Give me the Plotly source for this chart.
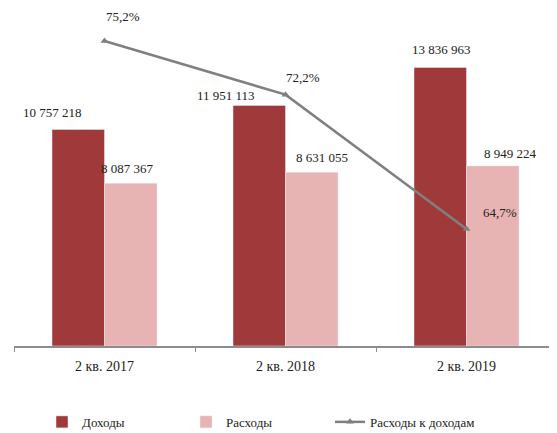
import plotly.graph_objects as go

categories = ["2 кв. 2017", "2 кв. 2018", "2 кв. 2019"]
income = [10757218, 11951113, 13836963]
expenses = [8087367, 8631055, 8949224]
ratio = [75.2, 72.2, 64.7]

def fmt_num(v):
    return f"{v:,}".replace(",", " ")

def fmt_pct(v):
    return f"{v:.1f}%".replace(".", ",")

FONT = "Liberation Serif"
C_INC = "#A03A3A"
C_EXP = "#E8B3B3"
C_LINE = "#808080"

fig = go.Figure()
fig.add_trace(go.Bar(x=categories, y=income, name="Доходы", marker_color=C_INC))
fig.add_trace(go.Bar(x=categories, y=expenses, name="Расходы", marker_color=C_EXP))
fig.add_trace(go.Scatter(x=categories, y=ratio, name="Расходы к доходам", yaxis="y2",
                         mode="lines+markers",
                         line=dict(color=C_LINE, width=2.5),
                         marker=dict(symbol="triangle-up", size=7, color=C_LINE)))

inc_shift = [(-52, 17), (-60, 10), (-25, 18)]
exp_shift = [(23, 15), (36, 15), (44, 12)]
pct_shift = [(18, 24), (17, 17), (33, 16)]

ann = []
for c, v, (dx, dy) in zip(categories, income, inc_shift):
    ann.append(dict(x=c, y=v, text=fmt_num(v), showarrow=False, xshift=dx, yshift=dy,
                    yanchor="middle", font=dict(family=FONT, size=13, color="#222")))
for c, v, (dx, dy) in zip(categories, expenses, exp_shift):
    ann.append(dict(x=c, y=v, text=fmt_num(v), showarrow=False, xshift=dx, yshift=dy,
                    yanchor="middle", font=dict(family=FONT, size=13, color="#222")))
for c, v, (dx, dy) in zip(categories, ratio, pct_shift):
    ann.append(dict(x=c, y=v, yref="y2", text=fmt_pct(v), showarrow=False, xshift=dx, yshift=dy,
                    yanchor="middle", font=dict(family=FONT, size=13, color="#222")))

fig.update_layout(
    width=549, height=425,
    margin=dict(l=6, r=0, t=19, b=87, autoexpand=False),
    paper_bgcolor="white", plot_bgcolor="white",
    barmode="group", bargap=0.42, bargroupgap=0,
    font=dict(family=FONT, size=13, color="#222"),
    xaxis=dict(showline=True, linecolor="#8c8c8c", linewidth=1.5, ticks="outside",
               tickson="boundaries", ticklen=4, tickcolor="#8c8c8c", automargin=False,
               ticklabelstandoff=6,
               tickfont=dict(family=FONT, size=14, color="#222")),
    yaxis=dict(range=[0, 15850000], visible=False, showgrid=False),
    yaxis2=dict(range=[58.16, 75.98], overlaying="y", visible=False, showgrid=False),
    legend=dict(orientation="h", x=0.0516, xanchor="left", y=-0.238, yanchor="middle",
                entrywidth=99, font=dict(family=FONT, size=13, color="#222")),
    annotations=ann,
    showlegend=True,
)

fig.write_html("out.html")
